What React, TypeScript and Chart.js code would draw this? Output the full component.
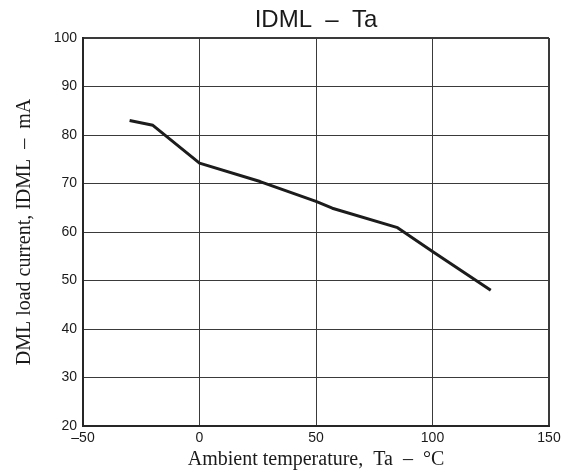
import React, { useEffect, useRef } from "react";
import { Chart, registerables } from "chart.js";

Chart.register(...registerables);

const temps: number[] = [-30, -20, 0, 26, 50, 57, 85, 100, 125];
const currents: number[] = [83, 82, 74.2, 70.4, 66.3, 64.9, 60.9, 56, 48];
const xTicks = { min: -50, max: 150, step: 50 };
const yTicks = { min: 20, max: 100, step: 10 };
const chartTitle = "IDML  –  Ta";
const xTitle = "Ambient temperature,  Ta  –  °C";
const yTitle = "DML load current, IDML  –  mA";

export default function App() {
  const ref = useRef<HTMLCanvasElement | null>(null);
  useEffect(() => {
    if (!ref.current) return;
    const gridColor = "#3a3a3a";
    const frameColor = "#262626";
    const sans = "'Liberation Sans', Arial, sans-serif";
    const serif = "'Liberation Serif', 'Times New Roman', serif";
    const chart = new Chart(ref.current, {
      type: "line",
      data: {
        datasets: [
          {
            data: temps.map((t, i) => ({ x: t, y: currents[i] })),
            borderColor: "#1c1c1c",
            borderWidth: 3,
            pointRadius: 0,
            tension: 0,
            borderJoinStyle: "round",
            borderCapStyle: "butt",
            xAxisID: "x",
            yAxisID: "y",
          },
        ],
      },
      options: {
        responsive: false,
        animation: false,
        layout: { padding: { left: 0, right: 24, top: 0, bottom: 0 } },
        plugins: {
          legend: { display: false },
          tooltip: { enabled: false },
          title: { display: false },
        },
        scales: {
          top: {
            type: "linear",
            position: "top",
            min: xTicks.min,
            max: xTicks.max,
            afterFit: (s: any) => {
              s.height = 38;
            },
            ticks: { display: false },
            grid: { display: false, drawTicks: false },
            border: { display: false },
            title: {
              display: true,
              text: chartTitle,
              color: "#1a1a1a",
              font: { family: sans, size: 24, weight: "normal", lineHeight: 1.2 },
              padding: { top: 6, bottom: 0 },
            },
          },
          x: {
            type: "linear",
            position: "bottom",
            min: xTicks.min,
            max: xTicks.max,
            afterFit: (s: any) => {
              s.height = 49;
            },
            ticks: {
              stepSize: xTicks.step,
              padding: 4,
              color: "#1a1a1a",
              font: { family: sans, size: 14 },
              callback: (v: any) => (Number(v) < 0 ? "–" + Math.abs(Number(v)) : String(v)),
              maxRotation: 0,
            },
            grid: {
              drawTicks: false,
              color: gridColor,
              lineWidth: (c: any) => (c.tick && c.tick.value === xTicks.max ? 2 : 1),
            },
            border: { display: true, color: frameColor, width: 2 },
            title: {
              display: true,
              text: xTitle,
              color: "#1a1a1a",
              font: { family: serif, size: 20, lineHeight: 1.2 },
              padding: { top: 0, bottom: 3 },
            },
          },
          y: {
            type: "linear",
            min: yTicks.min,
            max: yTicks.max,
            afterFit: (s: any) => {
              s.width = 83;
            },
            ticks: {
              stepSize: yTicks.step,
              padding: 6,
              color: "#1a1a1a",
              font: { family: sans, size: 14 },
            },
            grid: {
              drawTicks: false,
              color: gridColor,
              lineWidth: (c: any) => (c.tick && c.tick.value === yTicks.max ? 2 : 1),
            },
            border: { display: true, color: frameColor, width: 2 },
            title: {
              display: true,
              text: yTitle,
              color: "#1a1a1a",
              font: { family: serif, size: 20, lineHeight: 1.2 },
              padding: { top: 13, bottom: 0 },
            },
          },
        },
      } as any,
    });
    return () => chart.destroy();
  }, []);
  return (
    <div style={{ position: "fixed", left: 0, top: 0, width: 573, height: 475, background: "#fff" }}>
      <canvas ref={ref} width={573} height={475} style={{ display: "block" }} />
    </div>
  );
}
